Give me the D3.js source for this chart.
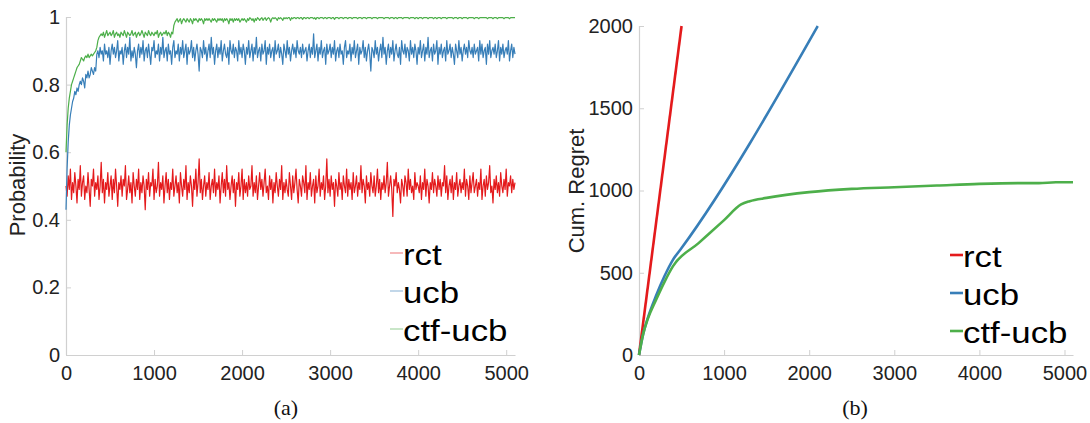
<!DOCTYPE html>
<html><head><meta charset="utf-8">
<script src="https://cdn.jsdelivr.net/npm/d3@7"></script>
<style>body{margin:0;background:#fff}svg{display:block}</style>
</head><body>
<script>
// ---------- DATA ----------
const seriesNames = ["rct", "ucb", "ctf-ucb"];
const colors = ["#e41a1c", "#377eb8", "#4daf4a"];
const stepA = 12.5; // time step between samples in panel (a)
const probRct = [
0.50,0.47,0.53,0.49,0.55,0.46,0.51,0.48,0.54,0.50,
0.45,0.52,0.49,0.56,0.47,0.51,0.53,0.46,0.50,0.48,
0.54,0.49,0.44,0.52,0.50,0.55,0.47,0.51,0.49,0.53,
0.46,0.50,0.57,0.48,0.52,0.45,0.51,0.49,0.54,0.47,
0.50,0.53,0.46,0.52,0.48,0.55,0.50,0.44,0.51,0.49,
0.53,0.47,0.52,0.50,0.56,0.46,0.49,0.53,0.48,0.51,
0.45,0.54,0.50,0.47,0.52,0.49,0.55,0.46,0.51,0.48,
0.53,0.50,0.43,0.52,0.49,0.54,0.47,0.51,0.50,0.55,
0.46,0.52,0.48,0.50,0.57,0.47,0.51,0.49,0.53,0.45,
0.50,0.54,0.48,0.52,0.46,0.51,0.49,0.55,0.47,0.50,
0.53,0.48,0.51,0.45,0.54,0.50,0.47,0.52,0.49,0.56,
0.46,0.51,0.48,0.53,0.50,0.44,0.52,0.49,0.55,0.47,
0.51,0.58,0.48,0.52,0.46,0.50,0.53,0.47,0.51,0.49,
0.54,0.46,0.50,0.52,0.48,0.55,0.47,0.51,0.49,0.53,
0.45,0.50,0.54,0.48,0.52,0.47,0.56,0.49,0.51,0.46,
0.50,0.53,0.48,0.52,0.44,0.51,0.49,0.54,0.47,0.50,
0.55,0.46,0.52,0.48,0.51,0.47,0.53,0.49,0.50,0.56,
0.47,0.51,0.48,0.53,0.46,0.50,0.54,0.49,0.52,0.47,
0.51,0.55,0.48,0.50,0.46,0.53,0.49,0.52,0.45,0.51,
0.48,0.54,0.50,0.47,0.52,0.49,0.56,0.46,0.51,0.48,
0.52,0.49,0.47,0.54,0.50,0.46,0.53,0.48,0.51,0.55,
0.49,0.45,0.52,0.50,0.47,0.53,0.51,0.48,0.56,0.46,
0.51,0.49,0.54,0.47,0.50,0.52,0.45,0.53,0.48,0.50,
0.55,0.47,0.51,0.49,0.53,0.46,0.50,0.58,0.48,0.52,
0.47,0.53,0.49,0.51,0.44,0.52,0.50,0.47,0.54,0.49,
0.51,0.46,0.53,0.50,0.48,0.55,0.47,0.52,0.49,0.51,
0.46,0.54,0.48,0.50,0.53,0.47,0.51,0.49,0.56,0.48,
0.52,0.50,0.45,0.53,0.49,0.51,0.47,0.54,0.50,0.48,
0.53,0.47,0.50,0.55,0.48,0.52,0.46,0.51,0.49,0.53,
0.48,0.51,0.57,0.47,0.50,0.53,0.49,0.41,0.52,0.50,
0.54,0.48,0.51,0.49,0.45,0.52,0.50,0.47,0.53,0.51,
0.47,0.55,0.49,0.52,0.48,0.50,0.46,0.54,0.49,0.51,
0.50,0.48,0.53,0.46,0.51,0.49,0.55,0.47,0.52,0.50,
0.45,0.51,0.49,0.54,0.48,0.52,0.50,0.47,0.53,0.49,
0.52,0.47,0.51,0.50,0.56,0.48,0.53,0.46,0.50,0.52,
0.48,0.53,0.46,0.51,0.49,0.54,0.47,0.50,0.52,0.48,
0.51,0.49,0.55,0.47,0.52,0.50,0.46,0.53,0.48,0.51,
0.54,0.48,0.50,0.52,0.47,0.51,0.49,0.55,0.46,0.50,
0.52,0.47,0.53,0.49,0.51,0.56,0.48,0.50,0.45,0.52,
0.49,0.53,0.48,0.51,0.47,0.54,0.50,0.48,0.52,0.49,
0.55,0.47,0.51,0.50,0.53,0.48,0.52,0.49,0.51];
const probUcb = [
0.43,0.55,0.63,0.68,0.71,0.73,0.75,0.76,0.78,0.77,
0.79,0.78,0.80,0.81,0.80,0.82,0.81,0.79,0.83,0.82,
0.84,0.82,0.83,0.85,0.84,0.83,0.85,0.84,0.89,0.90,
0.88,0.91,0.89,0.90,0.87,0.92,0.89,0.90,0.88,0.91,
0.86,0.90,0.92,0.89,0.91,0.88,0.90,0.93,0.87,0.90,
0.89,0.91,0.86,0.90,0.92,0.88,0.91,0.89,0.94,0.87,
0.90,0.88,0.91,0.89,0.85,0.90,0.92,0.88,0.91,0.89,
0.93,0.87,0.90,0.91,0.88,0.92,0.89,0.86,0.91,0.90,
0.93,0.88,0.90,0.89,0.92,0.87,0.91,0.89,0.94,0.88,
0.90,0.91,0.87,0.92,0.89,0.90,0.86,0.91,0.93,0.88,
0.90,0.89,0.92,0.87,0.91,0.89,0.93,0.88,0.90,0.92,
0.86,0.91,0.89,0.90,0.93,0.88,0.91,0.87,0.90,0.92,
0.89,0.84,0.91,0.90,0.88,0.93,0.89,0.91,0.87,0.90,
0.92,0.88,0.94,0.89,0.91,0.86,0.90,0.92,0.88,0.91,
0.89,0.93,0.87,0.90,0.92,0.89,0.88,0.91,0.86,0.93,
0.90,0.89,0.92,0.88,0.91,0.90,0.87,0.93,0.89,0.91,
0.88,0.92,0.90,0.86,0.91,0.89,0.93,0.88,0.90,0.92,
0.87,0.91,0.89,0.94,0.88,0.90,0.91,0.87,0.92,0.89,
0.90,0.93,0.86,0.91,0.89,0.92,0.88,0.90,0.91,0.87,
0.93,0.89,0.90,0.92,0.88,0.91,0.89,0.86,0.92,0.90,
0.88,0.93,0.89,0.91,0.87,0.90,0.92,0.89,0.91,0.88,
0.93,0.90,0.89,0.91,0.88,0.92,0.89,0.90,0.91,0.87,
0.90,0.92,0.88,0.91,0.89,0.95,0.88,0.90,0.92,0.87,
0.91,0.89,0.93,0.88,0.90,0.91,0.86,0.92,0.89,0.90,
0.92,0.88,0.91,0.89,0.93,0.87,0.90,0.91,0.88,0.92,
0.89,0.90,0.86,0.91,0.93,0.88,0.90,0.89,0.92,0.87,
0.91,0.89,0.93,0.88,0.90,0.92,0.86,0.91,0.89,0.90,
0.93,0.88,0.91,0.87,0.90,0.92,0.89,0.84,0.91,0.90,
0.88,0.93,0.89,0.91,0.87,0.90,0.92,0.88,0.94,0.89,
0.91,0.86,0.90,0.92,0.88,0.91,0.89,0.93,0.87,0.90,
0.92,0.89,0.88,0.91,0.86,0.93,0.90,0.89,0.92,0.88,
0.91,0.90,0.87,0.93,0.89,0.91,0.88,0.92,0.90,0.86,
0.91,0.89,0.93,0.88,0.90,0.92,0.87,0.91,0.89,0.94,
0.88,0.90,0.91,0.87,0.92,0.89,0.90,0.93,0.86,0.91,
0.89,0.92,0.88,0.90,0.91,0.87,0.93,0.89,0.90,0.92,
0.88,0.91,0.89,0.86,0.92,0.90,0.88,0.93,0.89,0.91,
0.87,0.90,0.92,0.89,0.91,0.88,0.93,0.90,0.89,0.91,
0.88,0.92,0.89,0.90,0.91,0.87,0.93,0.89,0.92,0.88,
0.90,0.91,0.86,0.92,0.89,0.93,0.88,0.90,0.91,0.89,
0.92,0.88,0.90,0.93,0.87,0.91,0.89,0.92,0.88,0.90,
0.91,0.89,0.93,0.87,0.90,0.92,0.88,0.91,0.89];
const probCtf = [
0.60,0.68,0.73,0.76,0.78,0.80,0.81,0.82,0.83,0.84,
0.85,0.855,0.86,0.87,0.88,0.875,0.87,0.88,0.885,0.88,
0.89,0.88,0.885,0.89,0.885,0.89,0.895,0.90,0.91,0.93,
0.94,0.945,0.95,0.945,0.955,0.94,0.95,0.96,0.945,0.95,
0.955,0.945,0.95,0.96,0.94,0.95,0.955,0.945,0.95,0.94,
0.955,0.95,0.945,0.96,0.95,0.94,0.955,0.95,0.945,0.95,
0.96,0.945,0.95,0.955,0.94,0.95,0.955,0.945,0.95,0.96,
0.95,0.94,0.955,0.95,0.945,0.96,0.95,0.945,0.955,0.95,
0.945,0.955,0.95,0.96,0.94,0.95,0.955,0.945,0.95,0.955,
0.95,0.96,0.945,0.955,0.95,0.94,0.955,0.95,0.975,0.985,
0.99,0.995,0.985,0.99,0.995,0.98,0.99,0.995,0.99,0.985,
0.995,0.99,0.985,0.995,0.99,0.98,0.995,0.99,0.995,0.99,
0.985,0.995,0.99,0.995,0.99,0.98,0.995,0.99,0.995,0.99,
0.995,0.99,0.985,0.995,0.99,0.995,0.99,0.985,0.995,0.99,
0.995,0.99,0.995,0.985,0.995,0.99,0.995,0.99,0.98,0.995,
0.99,0.995,0.985,0.995,0.99,0.995,0.99,0.995,0.985,0.99,
0.995,0.99,0.995,0.99,0.985,0.995,0.99,0.998,0.995,0.99,
0.995,0.985,0.995,0.99,0.998,0.995,0.99,0.995,0.998,0.99,
0.995,0.998,0.99,0.995,0.998,0.995,0.985,0.995,0.998,0.995,
0.998,0.995,0.99,0.998,0.995,0.998,0.995,0.99,0.998,0.995,
0.998,0.995,0.998,0.998,0.99,0.998,0.995,0.998,0.998,0.995,
0.998,0.998,0.995,0.998,0.998,0.993,0.998,0.998,0.995,0.998,
0.998,0.995,0.998,0.998,0.998,0.995,0.998,0.993,0.998,0.998,
0.995,0.998,0.998,0.998,0.995,0.998,0.998,0.995,0.998,0.998,
0.998,0.995,0.998,0.998,0.993,0.998,0.998,0.998,0.995,0.998,
0.998,0.998,0.995,0.998,0.998,0.998,0.995,0.998,0.998,0.998,
0.995,0.998,0.998,0.998,0.998,0.995,0.998,0.998,0.998,0.995,
0.998,0.998,0.998,0.995,0.998,0.998,0.998,0.998,0.995,0.998,
0.998,0.998,0.998,0.995,0.998,0.998,0.998,0.998,0.998,0.995,
0.998,0.998,0.998,0.998,0.995,0.998,0.998,0.998,0.995,0.998,
0.998,0.995,0.998,0.998,0.998,0.998,0.995,0.998,0.998,0.998,
0.998,0.998,0.995,0.998,0.998,0.998,0.998,0.995,0.998,0.998,
0.995,0.998,0.998,0.998,0.995,0.998,0.998,0.998,0.998,0.995,
0.998,0.998,0.998,0.998,0.995,0.998,0.998,0.995,0.998,0.998,
0.998,0.995,0.998,0.998,0.998,0.998,0.995,0.998,0.998,0.998,
0.998,0.998,0.995,0.998,0.998,0.998,0.995,0.998,0.998,0.998,
0.995,0.998,0.998,0.998,0.998,0.995,0.998,0.998,0.998,0.998,
0.998,0.995,0.998,0.998,0.998,0.995,0.998,0.998,0.998,0.998,
0.998,0.998,0.998,0.995,0.998,0.998,0.998,0.998,0.995,0.998,
0.998,0.998,0.995,0.998,0.998,0.998,0.998,0.998,0.995,0.998,
0.998,0.998,0.998,0.995,0.998,0.998,0.998,0.998,0.998];

// panel (b): cumulative regret
const regretRctT = [0, 500];
const regretRct  = [0, 2000];
const regretUcbT = [0, 50, 100, 200, 300, 400, 500, 2100];
const regretUcb  = [0, 130, 220, 360, 480, 580, 650, 2000];
const regretCtfT = [0, 50, 100, 200, 300, 400, 700, 1000, 1200, 1300, 1500, 2000, 2500, 3000, 3500, 4000, 4500, 4700, 4900, 5100];
const regretCtf  = [0, 130, 215, 335, 445, 540, 680, 820, 915, 935, 955, 990, 1010, 1020, 1030, 1040, 1045, 1045, 1050, 1050];

const xTicks = [0, 1000, 2000, 3000, 4000, 5000];
const yTicksA = [0, 0.2, 0.4, 0.6, 0.8, 1];
const yTicksB = [0, 500, 1000, 1500, 2000];

// ---------- DRAW ----------
const W = 1090, H = 423;
const svg = d3.select("body").append("svg").attr("width", W).attr("height", H);
const font = "'Liberation Sans', Arial, Helvetica, sans-serif";

function panel(cfg) {
  const g = svg.append("g");
  const x = d3.scaleLinear().domain([0, 5100]).range([cfg.x0, cfg.x1]);
  const y = d3.scaleLinear().domain(cfg.yDomain).range([355, cfg.yTop]);
  const xa = g.append("g").attr("transform", `translate(0,355)`)
    .call(d3.axisBottom(x).tickValues(xTicks).tickSizeInner(-5).tickSizeOuter(0).tickPadding(11).tickFormat(d3.format("d")));
  const ya = g.append("g").attr("transform", `translate(${cfg.x0},0)`)
    .call(d3.axisLeft(y).tickValues(cfg.yTicks).tickSizeInner(-5).tickSizeOuter(0).tickPadding(6).tickFormat(cfg.fmt));
  [xa, ya].forEach(a => {
    a.select(".domain").attr("stroke", "#d0d0d0").attr("stroke-width", 1.2);
    a.selectAll(".tick line").attr("stroke", "#d0d0d0");
    a.selectAll("text").attr("font-family", font).attr("font-size", 20).attr("fill", "#222");
  });
  ya.select(".domain").attr("d", `M0.5,${y(cfg.yDomain[1])}V355`);
  g.append("text").attr("transform", `translate(${cfg.labelX},${cfg.labelY}) rotate(-90)`)
    .attr("text-anchor", "middle").attr("font-family", font).attr("font-size", 22).attr("fill", "#222")
    .text(cfg.ylabel);
  g.append("text").attr("x", cfg.capX).attr("y", 415).attr("text-anchor", "middle")
    .attr("font-family", "'Liberation Serif', 'Times New Roman', serif").attr("font-size", 22).attr("fill", "#111")
    .text(cfg.caption);
  return {g, x, y};
}

function legend(g, x0, y0, thin) {
  seriesNames.forEach((n, k) => {
    const yy = y0 + k * 38;
    g.append("line").attr("x1", x0).attr("x2", x0 + 13).attr("y1", yy - 12).attr("y2", yy - 12)
      .attr("stroke", colors[k]).attr("stroke-opacity", thin ? 0.5 : 1).attr("stroke-width", thin ? 1.2 : 2.6);
    g.append("text").attr("transform", `translate(${x0 + 13},${yy}) scale(1.2,1)`)
      .attr("font-family", font).attr("font-size", 29).attr("fill", "#000").text(n);
  });
}

// Panel (a)
const A = panel({x0: 66, x1: 515, yDomain: [0, 1], yTop: 17, yTicks: yTicksA,
  fmt: d => d === 0 ? "0" : d === 1 ? "1" : d3.format(".1f")(d),
  ylabel: "Probability", labelX: 25, labelY: 185, caption: "(a)", capX: 286});
const lineA = d3.line().x((d, i) => A.x(i * stepA)).y(d => A.y(d));
[probRct, probUcb, probCtf].forEach((s, k) => {
  A.g.append("path").attr("d", lineA(s)).attr("fill", "none")
    .attr("stroke", colors[k]).attr("stroke-width", 1.2).attr("stroke-linejoin", "round");
});
legend(A.g, 390, 265, true);

// Panel (b)
const B = panel({x0: 639, x1: 1073, yDomain: [0, 2000], yTop: 26, yTicks: yTicksB,
  fmt: d3.format("d"), ylabel: "Cum. Regret", labelX: 584, labelY: 191, caption: "(b)", capX: 855});
const pairs = [[regretRctT, regretRct], [regretUcbT, regretUcb], [regretCtfT, regretCtf]];
const lineB = d3.line().x(d => B.x(d[0])).y(d => B.y(d[1])).curve(d3.curveMonotoneX);
pairs.forEach((p, k) => {
  const pts = p[0].map((t, i) => [t, p[1][i]]);
  B.g.append("path").attr("d", lineB(pts)).attr("fill", "none")
    .attr("stroke", colors[k]).attr("stroke-width", 2.6).attr("stroke-linejoin", "round");
});
legend(B.g, 950, 267, false);
</script>
</body></html>
